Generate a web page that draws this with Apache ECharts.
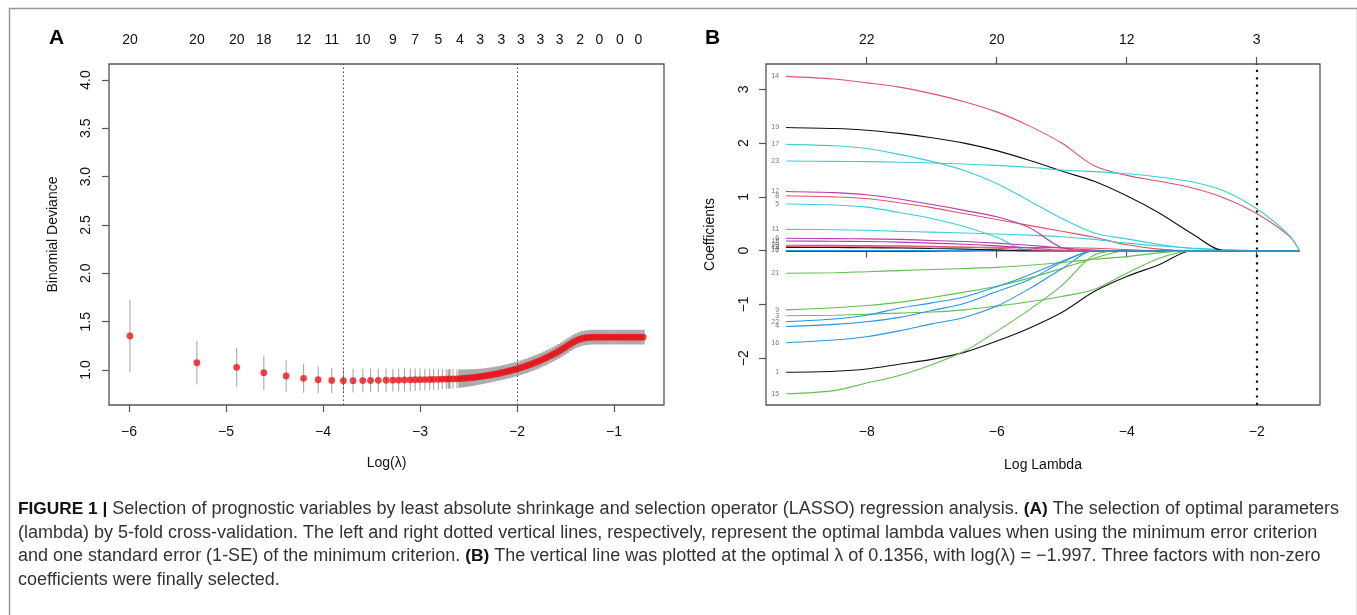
<!DOCTYPE html>
<html><head><meta charset="utf-8">
<script src="https://cdn.jsdelivr.net/npm/echarts@6/dist/echarts.min.js"></script>
<style>html,body{margin:0;padding:0;background:#fff}#c{width:1357px;height:615px}</style>
</head><body><div id="c"></div>
<script>
// ---------- Panel A: cross-validation curve ----------
const logLambdaA = [-5.99,-5.30,-4.89,-4.61,-4.38,-4.20,-4.05,-3.91,-3.79,-3.69,-3.59,-3.51,-3.43,-3.35,-3.28,-3.22,-3.16,-3.10,-3.05,-3.00,-2.95,-2.90,-2.86,-2.81,-2.77,-2.73,-2.70,-2.66,-2.62,-2.59,
 -2.56,-2.53,-2.50,-2.47,-2.44,-2.41,-2.38,-2.35,-2.32,-2.29,-2.26,-2.23,-2.20,-2.17,-2.14,-2.11,-2.08,-2.05,-2.02,-1.99,-1.96,-1.93,-1.90,-1.87,-1.84,-1.81,-1.78,-1.75,-1.72,-1.69,-1.66,-1.63,-1.60,-1.57,-1.54,-1.51,-1.48,-1.45,-1.42,-1.39,-1.36,-1.33,-1.30,-1.27,-1.24,-1.21,-1.18,-1.15,-1.12,-1.09,-1.06,-1.03,-1.00,-0.97,-0.94,-0.91,-0.88,-0.85,-0.82,-0.79,-0.76,-0.73,-0.70];
const cvmA = [1.352,1.075,1.028,0.972,0.938,0.914,0.899,0.892,0.890,0.890,0.891,0.892,0.893,0.894,0.895,0.896,0.897,0.898,0.899,0.900,0.901,0.902,0.903,0.904,0.905,0.906,0.907,0.908,0.909,0.911,
 0.913,0.915,0.918,0.921,0.924,0.928,0.932,0.936,0.941,0.946,0.951,0.957,0.963,0.969,0.976,0.983,0.990,0.998,1.006,1.015,1.024,1.034,1.044,1.055,1.066,1.078,1.090,1.103,1.117,1.131,1.146,1.161,1.177,1.194,1.212,1.231,1.251,1.270,1.288,1.304,1.316,1.326,1.332,1.336,1.338,1.340,1.340,1.340,1.340,1.340,1.340,1.340,1.340,1.340,1.340,1.340,1.340,1.340,1.340,1.340,1.340,1.340,1.340];
const cvsdA = [0.375,0.225,0.200,0.178,0.163,0.150,0.140,0.132,0.127,0.124,0.122,0.121,0.120,0.119,0.118,0.118,0.117,0.117,0.116,0.115,0.113,0.111,0.109,0.107,0.105,0.103,0.101,0.099,0.097,0.095,
 0.093,0.091,0.089,0.087,0.085,0.083,0.081,0.080,0.079,0.078,0.077,0.076,0.075,0.075,0.075,0.075,0.075,0.075,0.075,0.075,0.075,0.075,0.075,0.075,0.075,0.075,0.075,0.075,0.075,0.075,0.075,0.075,0.075,0.075,0.075,0.075,0.075,0.075,0.075,0.075,0.076,0.076,0.076,0.076,0.076,0.076,0.076,0.076,0.076,0.076,0.076,0.076,0.076,0.076,0.076,0.076,0.076,0.076,0.076,0.076,0.076,0.076,0.076];
const vlinesA = [-3.79, -1.997];
const topPosA = [-5.99,-5.30,-4.89,-4.61,-4.20,-3.91,-3.59,-3.28,-3.05,-2.81,-2.59,-2.38,-2.16,-1.96,-1.76,-1.56,-1.35,-1.15,-0.94,-0.75];
const topCountA = ['20','20','20','18','12','11','10','9','7','5','4','3','3','3','3','3','2','0','0','0'];
const xTicksA = [-6,-5,-4,-3,-2,-1];
const yTicksA = [1.0,1.5,2.0,2.5,3.0,3.5,4.0];

// ---------- Panel B: coefficient paths ----------
const logLambdaB = [-9.24,-8.5,-8.0,-7.5,-7.0,-6.5,-6.0,-5.5,-5.0,-4.5,-4.0,-3.5,-3.0,-2.5,-2.0,-1.5,-1.34];
const coef1  = [-2.26,-2.24,-2.20,-2.11,-2.02,-1.89,-1.68,-1.44,-1.15,-0.76,-0.48,-0.26,0,0,0,0,0];
const coef2  = [0.075,0.074,0.072,0.070,0.068,0.066,0.063,0.060,0.055,0.045,0.020,0,0,0,0,0,0];
const coef3  = [-1.21,-1.20,-1.18,-1.16,-1.14,-1.10,-1.03,-0.95,-0.85,-0.72,-0.42,-0.14,0,0,0,0,0];
const coef4  = [-1.41,-1.37,-1.32,-1.24,-1.11,-0.98,-0.76,-0.54,-0.22,0,0,0,0,0,0,0,0];
const coef5  = [0.868,0.85,0.81,0.71,0.60,0.45,0.25,0,0,0,0,0,0,0,0,0,0];
const coef6  = [0.23,0.225,0.22,0.21,0.19,0.17,0.14,0.10,0.05,0.01,0,0,0,0,0,0,0];
const coef7  = [-0.01,-0.01,-0.01,-0.01,-0.008,-0.005,0,0,0,0,0,0,0,0,0,0,0];
const coef8  = [1.02,1.00,0.97,0.89,0.80,0.69,0.58,0.47,0.36,0.25,0.11,0.03,0,0,0,0,0];
const coef9  = [-1.10,-1.06,-1.02,-0.96,-0.87,-0.77,-0.66,-0.51,-0.33,-0.14,0,0,0,0,0,0,0];
const coef10 = [0.005,0.005,0.004,0.003,0.002,0,0,0,0,0,0,0,0,0,0,0,0];
const coef11 = [0.397,0.39,0.38,0.36,0.345,0.33,0.31,0.29,0.26,0.21,0.14,0.09,0.05,0.02,0,0,0];
const coef12 = [1.10,1.08,1.04,0.96,0.86,0.75,0.63,0.43,0.06,0,0,0,0,0,0,0,0];
const coef13 = [0.06,0.058,0.055,0.05,0.04,0.03,0.015,0,0,0,0,0,0,0,0,0,0];
const coef14 = [3.24,3.19,3.12,3.04,2.92,2.77,2.58,2.32,2.00,1.58,1.40,1.29,1.17,0.98,0.69,0.27,0];
const coef15 = [-2.66,-2.60,-2.46,-2.32,-2.12,-1.87,-1.50,-1.10,-0.65,-0.08,0,0,0,0,0,0,0];
const coef16 = [-1.71,-1.66,-1.60,-1.49,-1.36,-1.24,-1.03,-0.71,-0.34,0,0,0,0,0,0,0,0];
const coef17 = [1.977,1.95,1.90,1.79,1.66,1.49,1.25,0.93,0.60,0.33,0.22,0.12,0.04,0.01,0,0,0];
const coef18 = [0.18,0.175,0.17,0.16,0.14,0.12,0.09,0.05,0.01,0,0,0,0,0,0,0,0];
const coef19 = [2.29,2.27,2.24,2.18,2.10,2.00,1.86,1.68,1.48,1.29,1.02,0.70,0.32,0,0,0,0];
const coef20 = [0.10,0.098,0.095,0.09,0.08,0.065,0.045,0.02,0,0,0,0,0,0,0,0,0];
const coef21 = [-0.42,-0.41,-0.39,-0.37,-0.35,-0.33,-0.31,-0.27,-0.22,-0.16,-0.11,-0.04,0,0,0,0,0];
const coef22 = [-1.32,-1.27,-1.20,-1.07,-0.97,-0.86,-0.67,-0.45,-0.20,0,0,0,0,0,0,0,0];
const coef23 = [1.667,1.66,1.655,1.645,1.63,1.61,1.585,1.55,1.50,1.47,1.43,1.37,1.28,1.11,0.78,0.29,0];
const coefNames = ['1','2','3','4','5','6','7','8','9','10','11','12','13','14','15','16','17','18','19','20','21','22','23'];
const topPosB = [-8,-6,-4,-2];
const topCountB = ['22','20','12','3'];
const xTicksB = [-8,-6,-4,-2];
const yTicksB = [-2,-1,0,1,2,3];
const vlineB = -1.997;

// ---------- styles ----------
const FONT = 'Liberation Sans, Arial, Helvetica, sans-serif';
const palette = ['#111111','#DF536B','#61C04F','#2297E6','#3ACFD8','#B83AAE'];
const coefPaths = [coef1,coef2,coef3,coef4,coef5,coef6,coef7,coef8,coef9,coef10,coef11,coef12,coef13,coef14,coef15,coef16,coef17,coef18,coef19,coef20,coef21,coef22,coef23];
const minus = v => { const s = String(v); return s.replace('-', '\u2212'); };
const lookup = (pos, labels) => v => { let bi = 0, bd = 1e9; pos.forEach((p, i) => { const d = Math.abs(p - v); if (d < bd) { bd = d; bi = i; } }); return labels[bi]; };

const tickStyle = { show: true, inside: false, length: 7, lineStyle: { color: '#555', width: 1.2 } };
const lab = { color: '#111', fontSize: 14, fontFamily: FONT };
const nameStyle = { color: '#111', fontSize: 14, fontFamily: FONT };

const chart = echarts.init(document.getElementById('c'), null, { renderer: 'canvas' });
const option = {
  animation: false,
  backgroundColor: '#fff',
  grid: [
    { left: 109, top: 64, width: 555, height: 341, show: true, borderColor: '#555', borderWidth: 1.3, backgroundColor: 'transparent' },
    { left: 766, top: 64, width: 554, height: 341, show: true, borderColor: '#555', borderWidth: 1.3, backgroundColor: 'transparent' }
  ],
  xAxis: [
    { type: 'value', gridIndex: 0, min: -6.206, max: -0.485, position: 'bottom',
      axisLine: { show: false }, splitLine: { show: false },
      axisTick: Object.assign({ customValues: xTicksA }, tickStyle),
      axisLabel: Object.assign({ customValues: xTicksA, margin: 20, formatter: minus }, lab),
      name: 'Log(\u03bb)', nameLocation: 'middle', nameGap: 51, nameTextStyle: nameStyle },
    { type: 'value', gridIndex: 0, min: -6.206, max: -0.485, position: 'top',
      axisLine: { show: false }, splitLine: { show: false }, axisTick: { show: false },
      axisLabel: Object.assign({ customValues: topPosA, margin: 17, formatter: lookup(topPosA, topCountA) }, lab) },
    { type: 'value', gridIndex: 1, min: -9.549, max: -1.026, position: 'bottom',
      axisLine: { show: false }, splitLine: { show: false },
      axisTick: Object.assign({ customValues: xTicksB }, tickStyle),
      axisLabel: Object.assign({ customValues: xTicksB, margin: 20, formatter: minus }, lab),
      name: 'Log Lambda', nameLocation: 'middle', nameGap: 53, nameTextStyle: nameStyle },
    { type: 'value', gridIndex: 1, min: -9.549, max: -1.026, position: 'top',
      axisLine: { show: false }, splitLine: { show: false },
      axisTick: Object.assign({ customValues: topPosB }, tickStyle),
      axisLabel: Object.assign({ customValues: topPosB, margin: 17, formatter: lookup(topPosB, topCountB) }, lab) }
  ],
  yAxis: [
    { type: 'value', gridIndex: 0, min: 0.638, max: 4.165,
      axisLine: { show: false }, splitLine: { show: false },
      axisTick: Object.assign({ customValues: yTicksA }, tickStyle),
      axisLabel: Object.assign({ customValues: yTicksA, margin: 16, rotate: 90, formatter: v => Number(v).toFixed(1) }, lab),
      name: 'Binomial Deviance', nameLocation: 'middle', nameGap: 49, nameRotate: 90, nameTextStyle: nameStyle },
    { type: 'value', gridIndex: 1, min: -2.868, max: 3.470,
      axisLine: { show: false }, splitLine: { show: false },
      axisTick: Object.assign({ customValues: yTicksB }, tickStyle),
      axisLabel: Object.assign({ customValues: yTicksB, margin: 15, rotate: 90, formatter: minus }, lab),
      name: 'Coefficients', nameLocation: 'middle', nameGap: 49, nameRotate: 90, nameTextStyle: nameStyle }
  ],
  series: [],
  graphic: []
};

// Panel A error bars (where lambdas are dense, bar width fills the gap so bars merge into a band)
option.series.push({
  type: 'custom', xAxisIndex: 0, yAxisIndex: 0, silent: true, z: 2,
  data: logLambdaA.map((x, i) => [x, cvmA[i] - cvsdA[i], cvmA[i] + cvsdA[i]]),
  encode: { x: 0, y: [1, 2] },
  renderItem: (params, api) => {
    const i = params.dataIndex;
    const p1 = api.coord([api.value(0), api.value(1)]);
    const p2 = api.coord([api.value(0), api.value(2)]);
    const nb = i > 0 ? logLambdaA[i - 1] : logLambdaA[i + 1];
    const gap = Math.abs(api.coord([nb, 1])[0] - p1[0]);
    const w = gap <= 3.1 ? Math.max(1.1, gap * 1.08) : 1.1;
    return { type: 'line', shape: { x1: p1[0], y1: p1[1], x2: p2[0], y2: p2[1] }, style: { stroke: '#AAAAAA', lineWidth: w } };
  }
});
// Panel A points + dotted verticals
option.series.push({
  type: 'scatter', xAxisIndex: 0, yAxisIndex: 0, silent: true, z: 3,
  symbol: 'circle', symbolSize: 6.8, itemStyle: { color: '#E8141C' },
  data: logLambdaA.map((x, i) => [x, cvmA[i]]),
  markLine: { silent: true, symbol: ['none', 'none'], label: { show: false },
    lineStyle: { color: '#444', width: 1, type: [1.5, 2.5] },
    data: vlinesA.map(v => ({ xAxis: v })) }
});

// Panel B paths
coefPaths.forEach((arr, i) => {
  option.series.push({
    type: 'line', xAxisIndex: 2, yAxisIndex: 1, silent: true, z: 2,
    symbol: 'none', smooth: 0.3,
    lineStyle: { color: palette[i % 6], width: 1.1 },
    data: logLambdaB.map((x, j) => [x, arr[j]])
  });
});
// Panel B variable labels at the left ends
option.series.push({
  type: 'scatter', xAxisIndex: 2, yAxisIndex: 1, silent: true, z: 4,
  symbolSize: 0,
  data: coefPaths.map((arr, i) => [logLambdaB[0], arr[0]]),
  label: { show: true, position: 'left', distance: 7, fontSize: 7, color: '#555', fontFamily: FONT,
    formatter: p => coefNames[p.dataIndex] },
  markLine: { silent: true, symbol: ['none', 'none'], label: { show: false },
    lineStyle: { color: '#111', width: 2.2, type: [2.2, 5.2], cap: 'butt' },
    data: [{ xAxis: vlineB }] }
});

// Frame, panel letters and caption
option.graphic = [
  { type: 'rect', left: 7, top: 6, shape: { x: 0, y: 0, width: 1348, height: 640 }, style: { fill: 'none', stroke: '#999', lineWidth: 1.5 }, silent: true },
  { type: 'text', left: 49, top: 28, style: { text: 'A', font: 'bold 21px ' + FONT, fill: '#000' } },
  { type: 'text', left: 705, top: 28, style: { text: 'B', font: 'bold 21px ' + FONT, fill: '#000' } }
];
const captionLines = [
  '{b|FIGURE 1 |} Selection of prognostic variables by least absolute shrinkage and selection operator (LASSO) regression analysis. {b|(A)} The selection of optimal parameters',
  '(lambda) by 5-fold cross-validation. The left and right dotted vertical lines, respectively, represent the optimal lambda values when using the minimum error criterion',
  'and one standard error (1-SE) of the minimum criterion. {b|(B)} The vertical line was plotted at the optimal \u03bb of 0.1356, with log(\u03bb) = \u22121.997. Three factors with non-zero',
  'coefficients were finally selected.'
];
const capY = [509, 533, 556, 580];
captionLines.forEach((t, i) => {
  option.graphic.push({ type: 'text', x: 18, y: capY[i], silent: true,
    style: { text: t, fontSize: 18, fontFamily: FONT, fill: '#333', verticalAlign: 'middle', align: 'left',
      rich: { b: { fontWeight: 'bold', fontSize: 17.3, fontFamily: FONT, fill: '#111' } } } });
});

chart.setOption(option);
</script></body></html>
